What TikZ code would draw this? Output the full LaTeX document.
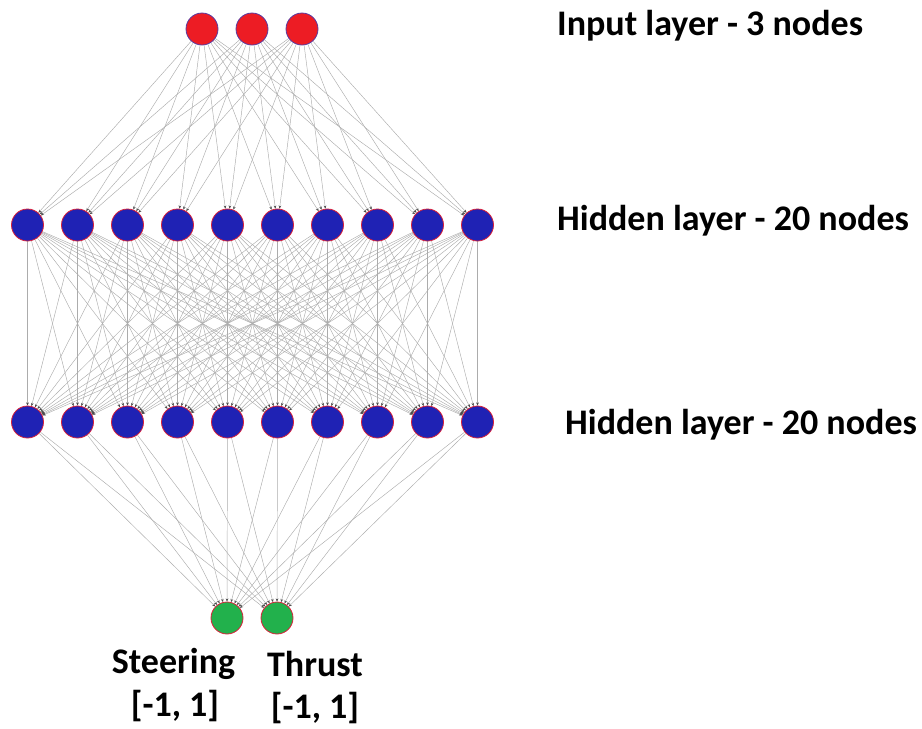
\documentclass[tikz,border=0pt]{standalone}
\usepackage{fontspec}
\setmainfont{Carlito}
\usetikzlibrary{arrows.meta,backgrounds}
\definecolor{inred}{HTML}{ED1C24}
\definecolor{hidblue}{HTML}{1F22B4}
\definecolor{outgreen}{HTML}{22B14C}
\definecolor{rimred}{HTML}{D8203A}
\definecolor{rimblue}{HTML}{5A3AA0}
\tikzset{
  x=1pt, y=-1pt,
  neuron/.style={circle, minimum size=32pt, inner sep=0pt, line width=0.8pt},
  innode/.style={neuron, fill=inred, draw=rimblue},
  hidnode/.style={neuron, fill=hidblue, draw=rimred},
  outnode/.style={neuron, fill=outgreen, draw=rimred},
  link/.style={draw=gray!65, line width=0.45pt,
    -{Stealth[length=3.2pt,width=2.6pt,color=black!70]}},
  caption/.style={font=\bfseries\fontsize{36}{42}\selectfont, inner sep=0pt, anchor=base west},
  outcap/.style={font=\bfseries\fontsize{36}{42}\selectfont, inner sep=0pt, anchor=base}
}
\begin{document}
\begin{tikzpicture}
\useasboundingbox (0,0) rectangle (922,729);
% layers of neurons
\foreach \k/\x in {1/202,2/252,3/302}
  \node[innode] (i\k) at (\x,29) {};
\foreach \k in {1,...,10}{
  \node[hidnode] (a\k) at ({27.5+50*(\k-1)},225) {};
  \node[hidnode] (b\k) at ({27.5+50*(\k-1)},422) {};
}
\node[outnode] (o1) at (227,618) {};
\node[outnode] (o2) at (277,618) {};
% weighted connections, drawn beneath the neurons
\begin{pgfonlayer}{background}
\foreach \s in {1,2,3}
  \foreach \t in {1,...,10}
    \draw[link] (i\s) -- (a\t);
\foreach \s in {1,...,10}
  \foreach \t in {1,...,10}
    \draw[link] (a\s) -- (b\t);
\foreach \s in {1,...,10}
  \foreach \t in {1,2}
    \draw[link] (b\s) -- (o\t);
\end{pgfonlayer}
% captions
\node[caption] (capin) at (557,35) {Input layer - 3 nodes};
\node[caption] (caph1) at (557,230) {Hidden layer - 20 nodes};
\node[caption] (caph2) at (565,434) {Hidden layer - 20 nodes};
\node[outcap] (steer) at (173.5,673) {Steering};
\node[outcap] (steerr) at (175,716) {[-1, 1]};
\node[outcap] (thrust) at (315,676) {Thrust};
\node[outcap] (thrustr) at (315,718) {[-1, 1]};
\end{tikzpicture}
\end{document}
